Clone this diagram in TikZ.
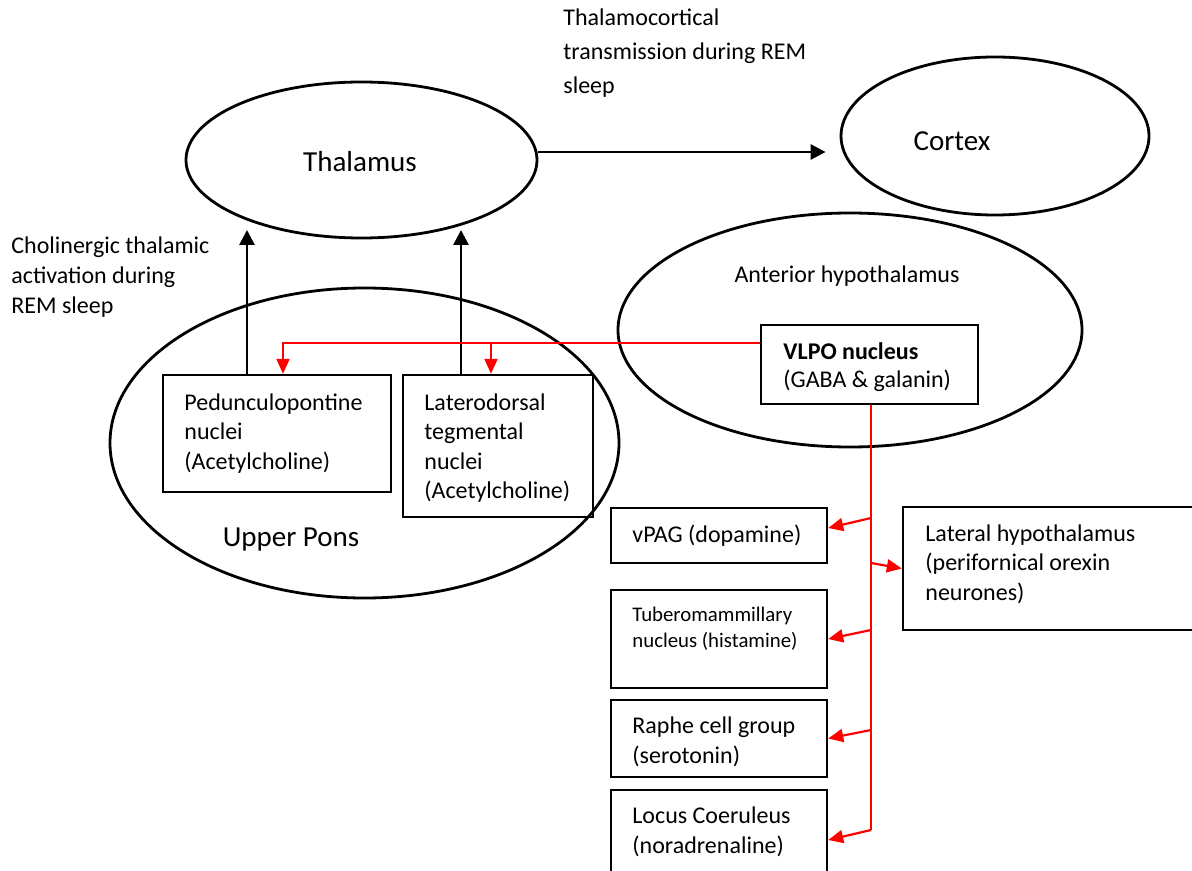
\documentclass[tikz,border=0pt]{standalone}
\usepackage{fontspec}
\setmainfont{Carlito}
\usetikzlibrary{arrows.meta,shapes.geometric,calc}
\tikzset{
  oval/.style={draw, ellipse, line width=1.4pt, inner sep=0pt},
  nbox/.style={draw, rectangle, line width=1.2pt, inner sep=0pt},
  lbl/.style={inner sep=0pt, anchor=base west},
  arr/.style={line width=1.4pt, -{Triangle[length=7.5pt,width=7.5pt]}},
  redln/.style={draw=red, line width=1.1pt},
  redarr/.style={red, line width=1.1pt, -{Triangle[length=7.5pt,width=6.5pt]}},
}
\newcommand{\fsz}[2]{\fontsize{#1}{#2}\selectfont}
\newcommand{\tlines}[1]{\begin{tabular}[t]{@{}l@{}}#1\end{tabular}}
\begin{document}
\begin{tikzpicture}[x=0.5pt,y=-0.5pt]
\clip (0,0) rectangle (1192,871);
\fill[white] (0,0) rectangle (1192,871);

% ellipses
\node[oval, minimum width=175.5pt, minimum height=78pt] (thal) at (361.5,160) {};
\node[oval, minimum width=154pt, minimum height=79pt] (cortex) at (995,136) {};
\node[oval, minimum width=254.5pt, minimum height=155pt] (pons) at (364.5,443) {};
\node[oval, minimum width=232pt, minimum height=117pt] (ant) at (850,330) {};

% ellipse labels
\node[inner sep=0pt, anchor=base, font=\fsz{14.5}{17}] (tthal) at (360,172) {Thalamus};
\node[inner sep=0pt, anchor=base, font=\fsz{14.5}{17}] (tcortex) at (952,151) {Cortex};
\node[inner sep=0pt, anchor=base, font=\fsz{14.5}{17}] (tpons) at (291,546) {Upper Pons};
\node[inner sep=0pt, anchor=base, font=\fsz{12}{14}] (tant) at (847,283) {Anterior hypothalamus};

% free labels
\node[lbl, font=\fsz{12}{17}] (tthc) at (563,26) {\tlines{Thalamocortical\\transmission during REM\\sleep}};
\node[lbl, font=\fsz{12}{15}] (tcho) at (11,254) {\tlines{Cholinergic thalamic\\activation during\\REM sleep}};

% boxes
\node[nbox, minimum width=114pt, minimum height=58.5pt] (ppn) at (277,433.5) {};
\node[nbox, minimum width=95pt, minimum height=71pt] (ldt) at (498,446) {};
\node[nbox, minimum width=108.5pt, minimum height=39.5pt] (vlpo) at (869.5,364.5) {};
\node[nbox, minimum width=108pt, minimum height=27.5pt] (vpag) at (719,535.5) {};
\node[nbox, minimum width=108pt, minimum height=49pt] (tmn) at (719,639) {};
\node[nbox, minimum width=108pt, minimum height=38.5pt] (raphe) at (719,738.5) {};
\node[nbox, minimum width=108pt, minimum height=45pt] (lc) at (719,835) {};
\node[nbox, minimum width=148.5pt, minimum height=61.5pt] (lh) at (1051.5,568.5) {};

% box texts
\node[lbl, font=\fsz{12}{14.75}] (tppn) at (184,410) {\tlines{Pedunculopontine\\nuclei\\(Acetylcholine)}};
\node[lbl, font=\fsz{12}{14.75}] (tldt) at (424,410) {\tlines{Laterodorsal\\tegmental\\nuclei\\(Acetylcholine)}};
\node[lbl, font=\fsz{12}{14}] (tvlpo) at (783,359) {\tlines{\textbf{VLPO nucleus}\\(GABA \& galanin)}};
\node[lbl, font=\fsz{12}{14}] (tvpag) at (632,542) {vPAG (dopamine)};
\node[lbl, font=\fsz{10.4}{13}] (ttmn) at (632,621) {\tlines{Tuberomammillary\\nucleus (histamine)}};
\node[lbl, font=\fsz{12}{15}] (traphe) at (632,733) {\tlines{Raphe cell group\\(serotonin)}};
\node[lbl, font=\fsz{12}{15}] (tlc) at (632,823) {\tlines{Locus Coeruleus\\(noradrenaline)}};
\node[lbl, font=\fsz{12}{14.75}] (tlh) at (925,541) {\tlines{Lateral hypothalamus\\(perifornical orexin\\neurones)}};

% black arrows
\draw[arr] ([yshift=4pt]thal.east) -- ([xshift=-7pt,yshift=-8pt]cortex.west);
\coordinate (a1) at (247,230);
\coordinate (a2) at (461,230);
\draw[arr] (ppn.north -| a1) -- (a1);
\draw[arr] (ldt.north -| a2) -- (a2);

% red inhibitory projections
\coordinate (r0) at (283,343);
\coordinate (r1) at (491,343);
\draw[redarr] (vlpo.west |- r0) -| (ppn.north -| r0);
\draw[redarr] (r1) -- (ldt.north -| r1);

\coordinate (b1) at (871,518);
\coordinate (b2) at (871,563);
\coordinate (b3) at (871,630);
\coordinate (b4) at (871,730);
\coordinate (b5) at (871,830);
\draw[redln] (vlpo.south -| b5) -- (b5);
\draw[redarr] (b1) -- ([yshift=3.75pt]vpag.east);
\draw[redarr] (b2) -- (lh.west);
\draw[redarr] (b3) -- (tmn.east);
\draw[redarr] (b4) -- (raphe.east);
\draw[redarr] (b5) -- ([yshift=-2.5pt]lc.east);
\end{tikzpicture}
\end{document}
